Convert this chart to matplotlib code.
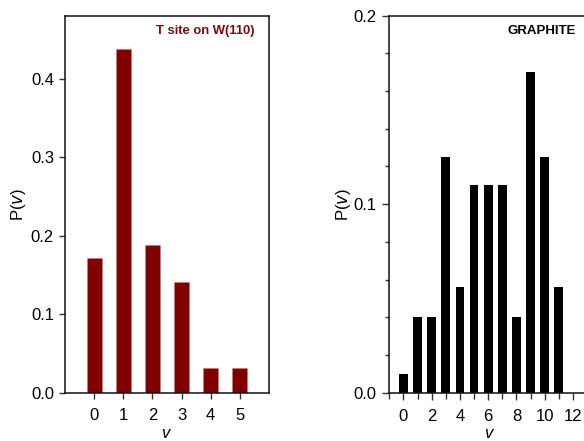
import matplotlib
matplotlib.use("Agg")
import matplotlib.pyplot as plt
import matplotlib.transforms as mtransforms
from matplotlib.ticker import MultipleLocator

plt.rcParams['font.family'] = ['Liberation Sans', 'DejaVu Sans']

# Data
w_v = [0, 1, 2, 3, 4, 5]
w_p = [0.172, 0.4375, 0.1875, 0.1406, 0.03125, 0.03125]
w_title = "T site on W(110)"

g_v = [0, 1, 2, 3, 4, 5, 6, 7, 8, 9, 10, 11]
g_p = [0.010, 0.040, 0.040, 0.125, 0.056, 0.110, 0.110, 0.110, 0.040, 0.170, 0.125, 0.056]
g_title = "GRAPHITE"

W, H = 584, 441
fig = plt.figure(figsize=(W / 100, H / 100), dpi=100)

# Left panel
ax1 = fig.add_axes([65 / W, (H - 392.7) / H, 204 / W, 377 / H])
ax1.bar(w_v, w_p, width=0.52, color='#800000', edgecolor='#c08080', linewidth=0.4)
ax1.set_xlim(-1, 6)
ax1.set_ylim(0, 0.48)
ax1.set_xticks(w_v)
ax1.set_yticks([0.0, 0.1, 0.2, 0.3, 0.4])
ax1.set_yticklabels(['0.0', '0.1', '0.2', '0.3', '0.4'])
ax1.tick_params(axis='both', direction='out', length=4, width=1, labelsize=12, color='#333333')
ax1.tick_params(axis='y', pad=4)
ax1.tick_params(axis='x', pad=7)
ax1.set_ylabel(r'P($\it{v}$)', fontsize=12)
ax1.set_xlabel('v', fontsize=12, style='italic')
ax1.yaxis.set_label_coords(-0.181, 0.5)
ax1.xaxis.set_label_coords(0.49, -0.088)
ax1.text(0.931, 0.96, w_title, transform=ax1.transAxes, ha='right', va='center',
         fontsize=9.4, fontweight='bold', color='#7a0a0a')

# Right panel
ax2 = fig.add_axes([389.3 / W, (H - 392.7) / H, 197.8 / W, 377 / H])
ax2.bar(g_v, g_p, width=0.62, color='black')
ax2.set_xlim(-1, 13)
ax2.set_ylim(0, 0.2)
ax2.xaxis.set_major_locator(MultipleLocator(2))
ax2.xaxis.set_minor_locator(MultipleLocator(1))
ax2.set_yticks([0.0, 0.1, 0.2])
ax2.set_yticklabels(['0.0', '0.1', '0.2'])
ax2.yaxis.set_minor_locator(MultipleLocator(0.02))
ax2.tick_params(axis='both', which='major', direction='out', length=5, width=1, labelsize=12, color='#333333')
ax2.tick_params(axis='both', which='minor', direction='out', length=3, width=1, color='#333333')
ax2.tick_params(axis='x', which='minor', length=4)
ax2.tick_params(axis='y', pad=4.5)
ax2.tick_params(axis='x', pad=7)
ax2.set_ylabel(r'P($\it{v}$)', fontsize=12)
ax2.set_xlabel('v', fontsize=12, style='italic')
ax2.yaxis.set_label_coords(-0.185, 0.5)
ax2.xaxis.set_label_coords(0.5, -0.088)
trans = mtransforms.blended_transform_factory(ax2.transData, ax2.transAxes)
ax2.text(12.2, 0.96, g_title, transform=trans, ha='right', va='center',
         fontsize=9.5, fontweight='bold', color='black')

for ax in (ax1, ax2):
    for s in ax.spines.values():
        s.set_linewidth(1.1)
        s.set_color('#111111')

fig.savefig('out.png', dpi=100)
